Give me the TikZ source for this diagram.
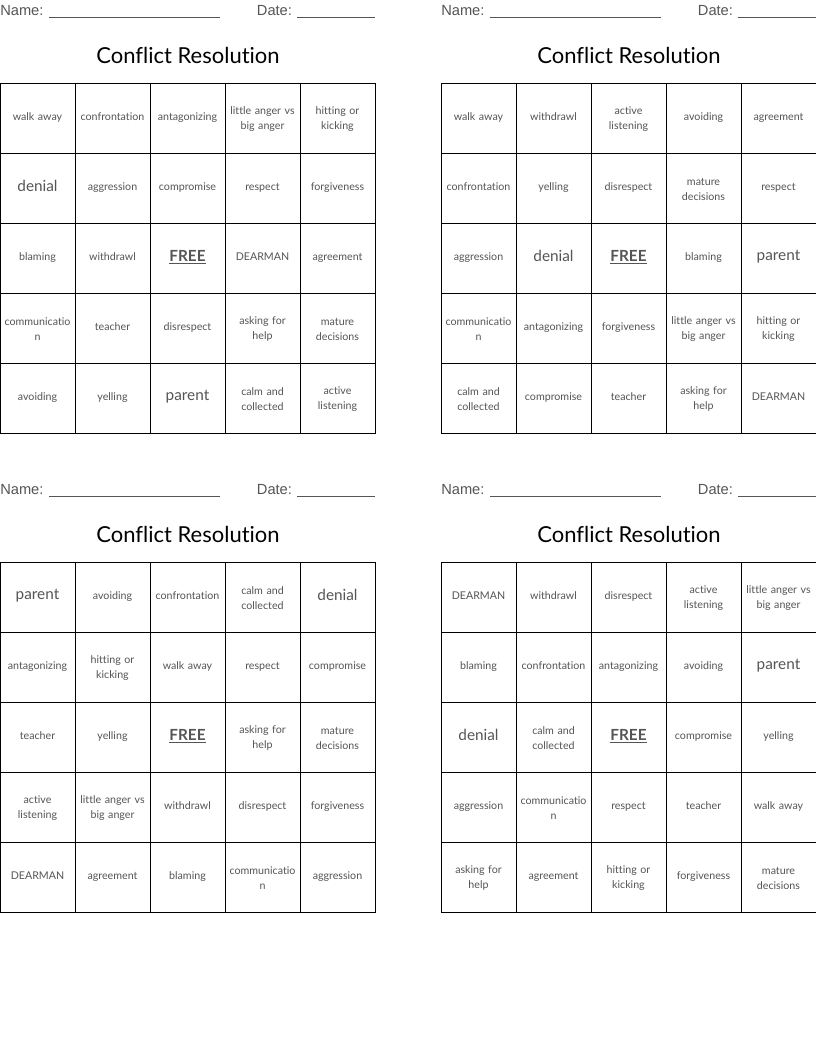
\documentclass[tikz,border=0pt]{standalone}
\usepackage{fontspec}
\setmainfont{Lato}[Ligatures={NoCommon,NoRare}]
\newfontfamily\arialfont{Liberation Sans}
\usetikzlibrary{positioning}
\definecolor{ink}{HTML}{555555}
\newcommand{\bw}[1]{{\fontsize{11.5pt}{13pt}\selectfont #1}}
\newcommand{\freecell}{{\fontsize{11.5pt}{13pt}\selectfont\bfseries\underline{FREE}}}
\tikzset{
  cell/.style={draw=black,line width=0.6pt,minimum width=56.25pt,minimum height=52.5pt,
    text width=54pt,align=center,inner sep=0pt,text=ink,font=\fontsize{8pt}{11pt}\selectfont},
  ctitle/.style={font=\fontsize{16.5pt}{18pt}\selectfont,text=black},
  namefld/.style={font=\arialfont\fontsize{11pt}{13pt}\selectfont,text=ink,inner sep=0pt}
}
% one card: name, left x, top y of grid, 25 words
\newcommand{\card}[4]{
  \node[namefld,anchor=west] (#1name) at (#2,12) {Name: \underline{\hspace{128pt}}};
  \node[namefld,anchor=east] (#1date) at (#2+375,12) {Date: \underline{\hspace{58pt}}};
  \node[ctitle] (#1title) at (#2+188,55) {Conflict Resolution};
  \foreach \w [count=\i from 0] in {#4} {
    \pgfmathtruncatemacro\c{mod(\i,5)}
    \pgfmathtruncatemacro\r{div(\i,5)}
    \node[cell] (#1-\r-\c) at (#2+37.5+75*\c,#3+35+70*\r) {\strut\w};
  }
}
\begin{document}
\begin{tikzpicture}[x=0.75pt,y=-0.75pt]
  \useasboundingbox[fill=white] (0,0) rectangle (816,1056);

  \card{A}{0}{83}{walk away, confrontation, antagonizing, little anger vs\\big anger, hitting or\\kicking,
    \bw{denial}, aggression, compromise, respect, forgiveness,
    blaming, withdrawl, \freecell, DEARMAN, agreement,
    communicatio\\n, teacher, disrespect, asking for\\help, mature\\decisions,
    avoiding, yelling, \bw{parent}, calm and\\collected, active\\listening}

  \card{B}{441}{83}{walk away, withdrawl, active\\listening, avoiding, agreement,
    confrontation, yelling, disrespect, mature\\decisions, respect,
    aggression, \bw{denial}, \freecell, blaming, \bw{parent},
    communicatio\\n, antagonizing, forgiveness, little anger vs\\big anger, hitting or\\kicking,
    calm and\\collected, compromise, teacher, asking for\\help, DEARMAN}

  \begin{scope}[yshift=-359.25pt]
  \card{C}{0}{83}{\bw{parent}, avoiding, confrontation, calm and\\collected, \bw{denial},
    antagonizing, hitting or\\kicking, walk away, respect, compromise,
    teacher, yelling, \freecell, asking for\\help, mature\\decisions,
    active\\listening, little anger vs\\big anger, withdrawl, disrespect, forgiveness,
    DEARMAN, agreement, blaming, communicatio\\n, aggression}

  \card{D}{441}{83}{DEARMAN, withdrawl, disrespect, active\\listening, little anger vs\\big anger,
    blaming, confrontation, antagonizing, avoiding, \bw{parent},
    \bw{denial}, calm and\\collected, \freecell, compromise, yelling,
    aggression, communicatio\\n, respect, teacher, walk away,
    asking for\\help, agreement, hitting or\\kicking, forgiveness, mature\\decisions}
  \end{scope}
\end{tikzpicture}
\end{document}
